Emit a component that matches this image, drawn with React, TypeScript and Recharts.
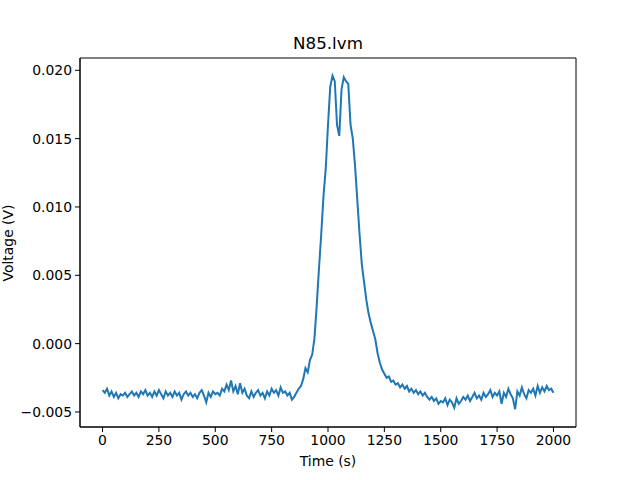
import { LineChart, Line, XAxis, YAxis, ReferenceArea } from "recharts";

// sampling interval of the recording, seconds
const TIME_STEP = 10;

// voltage (V), one value every TIME_STEP s from 0 to 2000 s
const VOLTAGE = [
  -0.0034, -0.0036, -0.0033, -0.0038, -0.0035, -0.0039, -0.0036, -0.004, -0.0037, -0.0038, -0.0036,
  -0.0039, -0.0037, -0.0035, -0.0038, -0.0036, -0.0039, -0.0035, -0.0037, -0.0034, -0.0038,
  -0.0036, -0.0039, -0.0035, -0.0038, -0.0034, -0.0037, -0.004, -0.0035, -0.0038, -0.0036,
  -0.0039, -0.0035, -0.0038, -0.0036, -0.0041, -0.0037, -0.0035, -0.0038, -0.0036, -0.0039,
  -0.0037, -0.004, -0.0036, -0.0034, -0.0038, -0.0043, -0.0036, -0.0039, -0.0035, -0.0037,
  -0.0036, -0.0038, -0.0033, -0.0035, -0.003, -0.0034, -0.0027, -0.0035, -0.0031, -0.0037,
  -0.0029, -0.0036, -0.0033, -0.0038, -0.004, -0.0035, -0.0039, -0.0036, -0.0034, -0.0038,
  -0.0036, -0.004, -0.0035, -0.0038, -0.0033, -0.0036, -0.0034, -0.0038, -0.0032, -0.0036,
  -0.0035, -0.0038, -0.0036, -0.0041, -0.0039, -0.0036, -0.0033, -0.0031, -0.0026, -0.0018,
  -0.0021, -0.0012, -0.0008, 0.0004, 0.0028, 0.0055, 0.008, 0.0108, 0.0128, 0.016,
  0.0188, 0.0196, 0.0192, 0.016, 0.0152, 0.0186, 0.0195, 0.0192, 0.019, 0.016,
  0.015, 0.013, 0.0105, 0.008, 0.0058, 0.0045, 0.0032, 0.0022, 0.0015, 0.0009,
  0.0003, -0.0007, -0.0014, -0.0019, -0.0022, -0.0025, -0.0024, -0.0028, -0.0027, -0.003,
  -0.0029, -0.0032, -0.003, -0.0033, -0.0031, -0.0035, -0.0033, -0.0036, -0.0034, -0.0037,
  -0.0035, -0.0038, -0.0036, -0.0039, -0.0041, -0.0039, -0.0042, -0.004, -0.0044, -0.0042,
  -0.0043, -0.004, -0.0045, -0.0041, -0.0043, -0.0047, -0.004, -0.0044, -0.0042, -0.0039,
  -0.0041, -0.0038, -0.0042, -0.0039, -0.0036, -0.004, -0.0038, -0.0041, -0.0036, -0.0039,
  -0.0037, -0.0034, -0.0039, -0.0036, -0.0038, -0.0035, -0.0044, -0.0036, -0.0039, -0.0033,
  -0.0037, -0.004, -0.0048, -0.0035, -0.0038, -0.0032, -0.0037, -0.004, -0.0034, -0.0036,
  -0.0033, -0.0038, -0.0031, -0.0036, -0.0032, -0.0035, -0.0031, -0.0034, -0.0033, -0.0036,
];

const X_TICKS = [0, 250, 500, 750, 1000, 1250, 1500, 1750, 2000];
const Y_TICKS = [-0.005, 0, 0.005, 0.01, 0.015, 0.02];
const X_DOMAIN = [-100, 2100];
const Y_DOMAIN = [-0.0061, 0.0209];

const data = VOLTAGE.map((v, i) => ({ t: i * TIME_STEP, v }));

const FONT = "DejaVu Sans";
const tickStyle = { fontSize: 13.9, fill: "#000", fontFamily: FONT };
const fmtY = (v: number) => v.toFixed(3).replace("-", "\u2212");

export default function App() {
  return (
    <div
      style={{
        position: "absolute",
        left: 0,
        top: 0,
        width: 640,
        height: 480,
        background: "#fff",
        fontFamily: FONT,
      }}
    >
      <div
        style={{
          position: "absolute",
          left: 80,
          width: 496,
          top: 33,
          textAlign: "center",
          fontSize: 16.7,
          lineHeight: "20px",
        }}
      >
        N85.lvm
      </div>
      <div
        style={{
          position: "absolute",
          left: 80,
          width: 496,
          top: 453,
          textAlign: "center",
          fontSize: 13.9,
          lineHeight: "17px",
        }}
      >
        Time (s)
      </div>
      <div
        style={{
          position: "absolute",
          left: 8,
          top: 243,
          fontSize: 13.9,
          lineHeight: "17px",
          whiteSpace: "nowrap",
          transform: "translate(-50%, -50%) rotate(-90deg)",
        }}
      >
        Voltage (V)
      </div>
      <LineChart
        width={640}
        height={480}
        data={data}
        margin={{ top: 58, right: 64, bottom: 0, left: 0 }}
        style={{ position: "absolute", left: 0, top: 0 }}
      >
        <XAxis
          dataKey="t"
          type="number"
          domain={X_DOMAIN}
          ticks={X_TICKS}
          height={53}
          tickSize={5}
          tickMargin={3}
          tick={tickStyle}
          stroke="#000"
          allowDataOverflow
        />
        <YAxis
          type="number"
          domain={Y_DOMAIN}
          ticks={Y_TICKS}
          width={80}
          tickSize={5}
          tickMargin={3}
          tick={tickStyle}
          tickFormatter={fmtY}
          stroke="#000"
          allowDataOverflow
        />
        <ReferenceArea
          x1={X_DOMAIN[0]}
          x2={X_DOMAIN[1]}
          y1={Y_DOMAIN[0]}
          y2={Y_DOMAIN[1]}
          fill="none"
          fillOpacity={0}
          stroke="#000"
          strokeWidth={1}
          strokeOpacity={1}
          ifOverflow="visible"
        />
        <Line
          dataKey="v"
          stroke="#1f77b4"
          strokeWidth={2}
          dot={false}
          type="linear"
          isAnimationActive={false}
        />
      </LineChart>
    </div>
  );
}
